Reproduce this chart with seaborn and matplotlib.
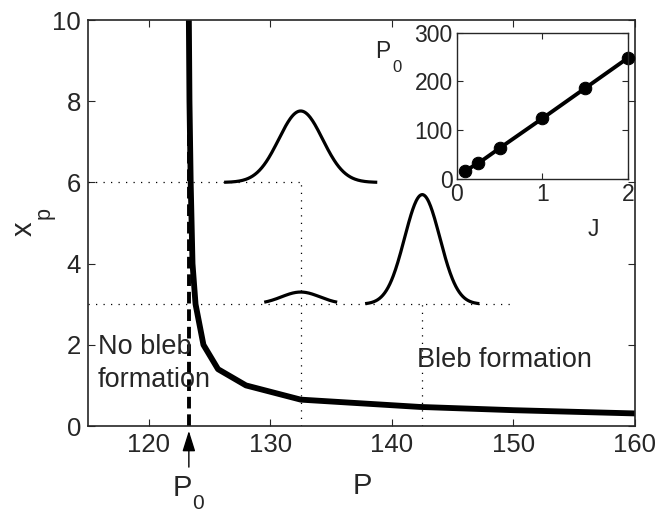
import numpy as np
import pandas as pd
import matplotlib
matplotlib.use("Agg")
import matplotlib.pyplot as plt
import seaborn as sns

# Main threshold curve (P vs x_p)
curve_P = [123.3, 123.35, 123.45, 123.6, 123.85, 124.5, 125.7, 128.0, 132.5, 142.3, 150.0, 160.0]
curve_xp = [10.0, 8.0, 6.0, 4.0, 3.0, 2.0, 1.4, 1.0, 0.65, 0.47, 0.39, 0.31]
P0_value = 123.3

# Inset data (P0 vs J)
inset_J = [0.1, 0.25, 0.5, 1.0, 1.5, 2.0]
inset_P0 = [17, 32, 63, 124, 186, 248]

# Illustrative bleb profiles: center P, baseline x_p, height, half-span, width
bump_center = [132.5, 132.5, 142.5]
bump_base = [6.0, 3.0, 3.0]
bump_height = [1.76, 0.3, 2.7]
bump_halfspan = [6.3, 3.0, 4.7]
bump_sigma = [1.8, 1.58, 1.45]

# Guide lines (dotted)
guide_h_y = [6.0, 3.0]
guide_h_xend = [132.5, 150.0]
guide_v_x = [132.5, 142.5]
guide_v_ytop = [6.0, 3.0]

main_xticks = [120, 130, 140, 150, 160]
main_yticks = [0, 2, 4, 6, 8, 10]
inset_xticks = [0, 1, 2]
inset_yticks = [0, 100, 200, 300]

sns.set_style("ticks")
plt.rcParams['font.family'] = ['Liberation Sans', 'DejaVu Sans']
plt.rcParams['xtick.direction'] = 'in'
plt.rcParams['ytick.direction'] = 'in'

W, H = 670, 511
fig = plt.figure(figsize=(6.7, 5.11), dpi=100)
ax = fig.add_axes([0.1313, 0.1663, 0.8164, 0.7945])


def ftext(x, y, s, **kw):
    return fig.text(x / W, 1 - y / H, s, ha='center', va='center', **kw)


FS = 18.5
LFS = 21

# dotted guides
for y, xe in zip(guide_h_y, guide_h_xend):
    ax.plot([115, xe], [y, y], color='black', lw=0.9, linestyle=(0, (1, 5)))
for x, yt in zip(guide_v_x, guide_v_ytop):
    ax.plot([x, x], [0, yt], color='black', lw=0.9, linestyle=(0, (1, 5)))

# bumps
for c, b, h, hs, s in zip(bump_center, bump_base, bump_height, bump_halfspan, bump_sigma):
    xs = np.linspace(c - hs, c + hs, 200)
    ys = b + h * np.exp(-0.5 * ((xs - c) / s) ** 2)
    ax.plot(xs, ys, color='black', lw=2.3, solid_capstyle='butt')

# dashed P0 line
ax.plot([P0_value, P0_value], [0, 10], color='black', lw=2.8, linestyle=(0, (3, 1.5)))

# main curve
df = pd.DataFrame({"P": curve_P, "xp": curve_xp})
sns.lineplot(data=df, x="P", y="xp", sort=False, color='black', lw=4.2, ax=ax)

ax.set_xlim(115, 160)
ax.set_ylim(0, 10)
ax.set_xticks(main_xticks)
ax.set_yticks(main_yticks)
ax.tick_params(labelsize=FS, length=5, width=0.8, top=True, right=True, pad=5)
for sp in ax.spines.values():
    sp.set_linewidth(1.2)
    sp.set_visible(True)
ax.set_xlabel("P", fontsize=LFS)
ax.xaxis.set_label_coords(0.501, -0.113)
ax.set_ylabel("")

# y label x_p (MATLAB-style large subscript)
ftext(24, 229, "x", fontsize=LFS, rotation=90)
ftext(44, 213, "p", fontsize=15.5, rotation=90)

ax.text(115.8, 1.95, "No bleb", fontsize=FS + 1, va='center', ha='left')
ax.text(115.8, 1.13, "formation", fontsize=FS + 1, va='center', ha='left')
ax.text(142.1, 1.63, "Bleb formation", fontsize=FS + 1, va='center', ha='left')

# P0 annotation below axis
ax.annotate("", xy=(P0_value, -0.05), xytext=(P0_value, -1.08),
            xycoords='data', textcoords='data', annotation_clip=False,
            arrowprops=dict(arrowstyle='-|>,head_length=0.7,head_width=0.22',
                            color='black', lw=1.0, mutation_scale=18))
ftext(182, 488, "P", fontsize=LFS)
ftext(198, 503, "0", fontsize=15)

# inset
axi = fig.add_axes([0.682, 0.650, 0.255, 0.286])
dfi = pd.DataFrame({"J": inset_J, "P0": inset_P0})
sns.lineplot(data=dfi, x="J", y="P0", color='black', lw=2.8, marker='o',
             markersize=9, markeredgecolor='black', ax=axi, clip_on=False)
axi.set_xlim(0, 2)
axi.set_ylim(0, 300)
axi.set_xticks(inset_xticks)
axi.set_yticks(inset_yticks)
axi.tick_params(labelsize=16.5, length=4, width=0.8, top=True, right=True, pad=3)
for sp in axi.spines.values():
    sp.set_linewidth(1.0)
    sp.set_visible(True)
axi.set_xlabel("")
axi.set_ylabel("")
ftext(383, 52, "P", fontsize=16.5)
ftext(397, 67, "0", fontsize=12)
ftext(593, 230, "J", fontsize=16.5)

fig.savefig("out.png", dpi=100)
